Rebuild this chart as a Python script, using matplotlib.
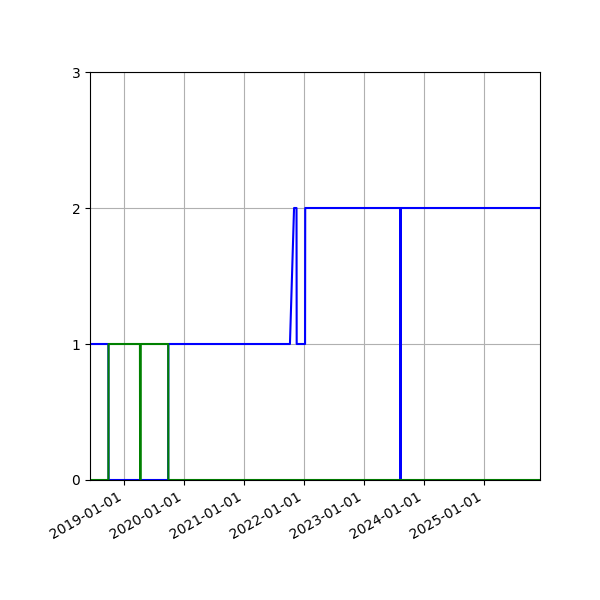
import numpy as np
import pandas as pd
import matplotlib
matplotlib.use("Agg")
import matplotlib.pyplot as plt
import matplotlib.dates as mdates

# blue series (step changes)
blue_dates = ["2018-06-08", "2018-09-28", "2018-09-29", "2019-09-27", "2019-09-28",
              "2021-10-07", "2021-11-01", "2021-11-16", "2021-11-17", "2022-01-07",
              "2022-01-08", "2023-08-10", "2023-08-11", "2023-08-12", "2025-12-07"]
blue_values = [1, 1, 0, 0, 1,
               1, 2, 2, 1, 1,
               2, 2, 0, 2, 2]

# green series
green_dates = ["2018-06-08", "2018-09-28", "2018-09-29", "2019-04-08", "2019-04-09",
               "2019-04-12", "2019-04-13", "2019-09-27", "2019-09-28", "2025-12-07"]
green_values = [0, 0, 1, 1, 0,
                0, 1, 1, 0, 0]

blue_x = pd.to_datetime(blue_dates)
green_x = pd.to_datetime(green_dates)

fig, ax = plt.subplots(figsize=(6, 6), dpi=100)
ax.plot(blue_x, blue_values, color="blue", linewidth=1.5)
ax.plot(green_x, green_values, color="green", linewidth=1.5)

ax.set_xlim(blue_x[0], blue_x[-1])
ax.set_ylim(0, 3)
ax.set_yticks([0, 1, 2, 3])
ax.xaxis.set_major_locator(mdates.YearLocator())
ax.xaxis.set_major_formatter(mdates.DateFormatter("%Y-%m-%d"))
ax.grid(True)
fig.autofmt_xdate()
fig.subplots_adjust(left=0.15)

fig.savefig("out.png")
